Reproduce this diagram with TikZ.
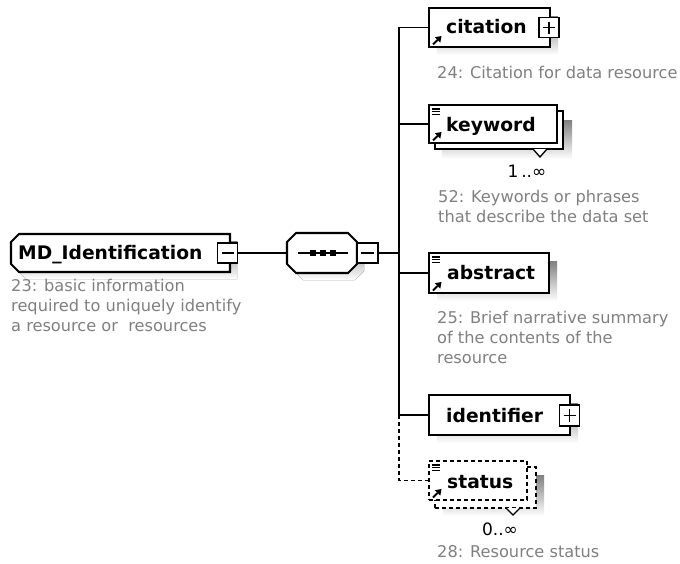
\documentclass[tikz,border=0pt]{standalone}
\usepackage{fontspec}
\setmainfont{DejaVu Sans}
\definecolor{shade}{RGB}{192,192,192}
\definecolor{desc}{RGB}{128,128,128}
\tikzset{
  ebox/.style={draw=black, line width=2.1pt, fill=white, inner sep=0pt, outer sep=0pt, anchor=north west},
  dbox/.style={ebox, line width=1.9pt, dash pattern=on 4pt off 3pt},
  area/.style={inner sep=0pt, outer sep=0pt, anchor=north west},
  pmbox/.style={draw=black, line width=1.8pt, fill=white, inner sep=0pt, outer sep=0pt, minimum width=20pt, minimum height=20pt},
  sign/.style={draw=black, line width=1.6pt},
  conn/.style={draw=black, line width=1.7pt},
  optconn/.style={conn, dash pattern=on 4pt off 3pt},
  lbl/.style={font=\fontsize{18.7}{22}\selectfont\bfseries, inner sep=0pt, anchor=base west},
  dsc/.style={font=\fontsize{16.2}{20}\selectfont, text=desc, inner sep=0pt, anchor=north west, align=left},
  card/.style={font=\fontsize{17}{20}\selectfont, text=black, inner sep=0pt, anchor=base},
  refarrow/.pic={
    \draw[line width=2pt] (4,-2.5) -- (8.5,-7);
    \fill (12.5,-11) -- (5.8,-9.8) -- (11.3,-4.3) -- cycle;
  },
  doclines/.pic={
    \draw[line width=1.2pt] (3,4) -- (10.5,4) (3,6.8) -- (10.5,6.8) (3,9.6) -- (10.5,9.6);
  },
}
\begin{document}
\begin{tikzpicture}[x=1pt,y=-1pt]
\useasboundingbox[fill=white] (0,0) rectangle (680,563);

% ---------- invisible frames used for connections ----------
\node[area, minimum width=219pt, minimum height=38pt] (md) at (11,234) {};
\node[area, minimum width=70pt, minimum height=40pt] (seq) at (287,233) {};
\coordinate (bus) at (399,253);

% ---------- shadows ----------
\fill[shade] (26,241) -- (237,241) -- (237,279) -- (26,279) -- (18,271) -- (18,249) -- cycle;
\fill[shade] (303,240) -- (355,240) -- (364,249) -- (364,271) -- (355,280) -- (303,280) -- (294,271) -- (294,249) -- cycle;
\fill[shade] (437,16) rectangle (558,55);
\fill[shade] (442,120) rectangle (572,159);
\fill[shade] (437,261) rectangle (557,301);
\fill[shade] (437,403) rectangle (578,443);
\fill[shade] (443,475) rectangle (544,516);

% ---------- connection frames ----------
\node[area, minimum width=121pt, minimum height=39pt] (cit) at (429,8) {};
\node[area, minimum width=128pt, minimum height=38pt] (kw) at (429,105) {};
\node[area, minimum width=120pt, minimum height=40pt] (ab) at (429,253) {};
\node[area, minimum width=141pt, minimum height=40pt] (idf) at (429,395) {};
\node[area, minimum width=98pt, minimum height=39pt] (st) at (429,461) {};
\node[pmbox] (mdm) at (227.5,253) {};
\node[pmbox, minimum width=21pt] (seqm) at (367.5,253) {};

% ---------- connectors ----------
\draw[conn] (mdm.east) -- (seq.west);
\draw[conn] (seqm.east) -- (bus);
\draw[conn] (cit.west) -| (bus) |- (idf.west);
\draw[conn] (kw.west) -- (kw.west -| bus);
\draw[conn] (ab.west) -- (ab.west -| bus);
\draw[optconn] (idf.west -| bus) |- (st.west);

% ---------- MD_Identification ----------
\draw[draw=black, line width=2.1pt, fill=white] (19,234) -- (230,234) -- (230,272) -- (19,272) -- (11,264) -- (11,242) -- cycle;
\node[lbl] (mdtext) at (18,259) {MD\_Identification};
\node[pmbox] (mdm2) at (mdm) {};
\draw[sign] ([xshift=4pt]mdm2.west) -- ([xshift=-4pt]mdm2.east);
\node[dsc] (mddesc) at (11,277) {\strut 23: basic information\\required to uniquely identify\\a resource or \ resources};

% ---------- sequence compositor ----------
\draw[draw=black, line width=2.1pt, fill=white] (296,233) -- (348,233) -- (357,242) -- (357,264) -- (348,273) -- (296,273) -- (287,264) -- (287,242) -- cycle;
\draw[line width=1.5pt] (298,253) -- (348,253);
\fill (310,250) rectangle (316,256);
\fill (320,250) rectangle (326,256);
\fill (330,250) rectangle (336,256);
\node[pmbox, minimum width=21pt] (seqm2) at (seqm) {};
\draw[sign] ([xshift=4pt]seqm2.west) -- ([xshift=-4pt]seqm2.east);

% ---------- citation ----------
\node[ebox, minimum width=121pt, minimum height=39pt] (citbox) at (429,8) {};
\pic at (citbox.south west) {refarrow};
\node[lbl] (cittext) at (446,33) {citation};
\node[pmbox] (citp) at (549,27.5) {};
\draw[sign] ([xshift=4pt]citp.west) -- ([xshift=-4pt]citp.east) ([yshift=-4pt]citp.north) -- ([yshift=4pt]citp.south);
\node[dsc] (citdesc) at (437,64) {\strut 24: Citation for data resource};

% ---------- keyword ----------
\node[ebox, minimum width=128pt, minimum height=38pt] (kwback) at (435,111) {};
\draw[line width=1.3pt, fill=white] (533,149) -- (540,157) -- (547,149);
\node[ebox, minimum width=128pt, minimum height=38pt] (kwbox) at (429,105) {};
\pic at (kwbox.north west) {doclines};
\pic at (kwbox.south west) {refarrow};
\node[lbl] (kwtext) at (446,131) {keyword};
\node[card] (kwcard) at (527,177) {1\,..∞};
\node[dsc] (kwdesc) at (438,188) {\strut 52: Keywords or phrases\\that describe the data set};

% ---------- abstract ----------
\node[ebox, minimum width=120pt, minimum height=40pt] (abbox) at (429,253) {};
\pic at (abbox.north west) {doclines};
\pic at (abbox.south west) {refarrow};
\node[lbl] (abtext) at (447,279) {abstract};
\node[dsc] (abdesc) at (437,309) {\strut 25: Brief narrative summary\\of the contents of the\\resource};

% ---------- identifier ----------
\node[ebox, minimum width=141pt, minimum height=40pt] (idfbox) at (429,395) {};
\node[lbl] (idftext) at (446,422) {identifier};
\node[pmbox, minimum height=21pt] (idfp) at (569.5,415.5) {};
\draw[sign] ([xshift=4pt]idfp.west) -- ([xshift=-4pt]idfp.east) ([yshift=-4pt]idfp.north) -- ([yshift=4pt]idfp.south);

% ---------- status ----------
\node[dbox, minimum width=101pt, minimum height=41pt] (stback) at (435,467) {};
\draw[line width=1.3pt, fill=white] (506,508) -- (513,515) -- (520,508);
\node[dbox, minimum width=98pt, minimum height=39pt] (stbox) at (429,461) {};
\pic at (stbox.north west) {doclines};
\pic at (stbox.south west) {refarrow};
\node[lbl] (sttext) at (447,488) {status};
\node[card] (stcard) at (500,535) {0..∞};
\node[dsc] (stdesc) at (437,543) {\strut 28: Resource status};
\end{tikzpicture}
\end{document}
